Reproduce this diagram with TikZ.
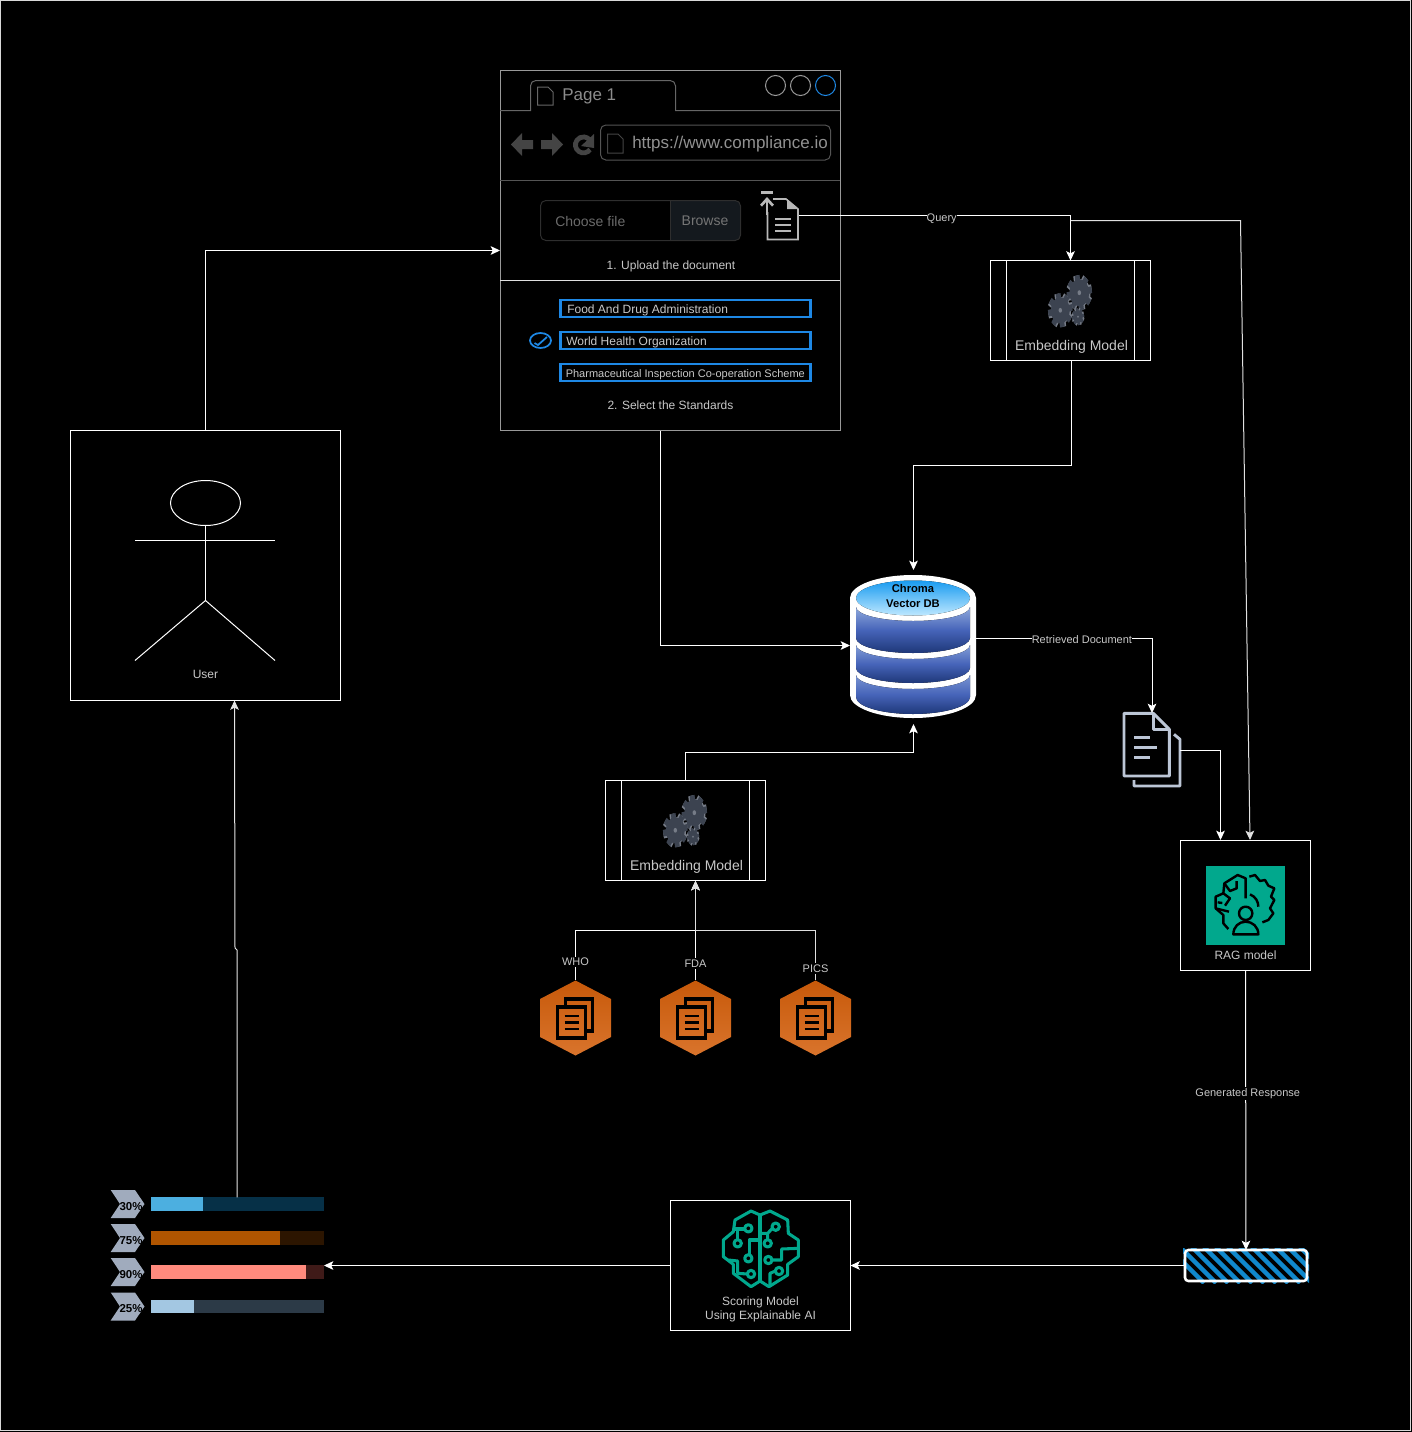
\documentclass[tikz,border=0pt]{standalone}
\usepackage{fontspec}
\setmainfont{Liberation Sans}
\usetikzlibrary{arrows.meta}
\definecolor{greytxt}{HTML}{C8C8C8}
\definecolor{chromegrey}{HTML}{444444}
\definecolor{uiblue}{HTML}{1E88E5}
\definecolor{awsgreen}{HTML}{01A88D}
\definecolor{docblue}{HTML}{BCC6D6}
\definecolor{gearcol}{HTML}{3C4350}
\definecolor{gearedge}{HTML}{767C87}
\definecolor{browsefill}{HTML}{14191E}
\definecolor{hatchblue}{HTML}{1088CC}
\definecolor{hextop}{HTML}{C7590A}
\definecolor{hexbottom}{HTML}{D9742C}
\definecolor{chevroncol}{HTML}{A0ABBD}
\definecolor{dblight}{HTML}{8FA9DC}
\definecolor{dbmid}{HTML}{4664B9}
\definecolor{dbdark}{HTML}{1E3778}
\definecolor{dbtopa}{HTML}{199BF0}
\definecolor{dbtopb}{HTML}{BEE8FF}
\begin{document}
\begin{tikzpicture}[x=.75pt,y=-.75pt,
	conn/.style={draw=white,line width=.75pt,-{Stealth[length=7pt,width=6.5pt,inset=1.6pt]}},
	plain/.style={draw=white,line width=.75pt},
	box/.style 2 args={draw=white,line width=.75pt,inner sep=0pt,outer sep=0pt,minimum width=#1*.75pt,minimum height=#2*.75pt},
	txt/.style={text=greytxt,inner sep=0pt,font=\fontsize{9}{10.5}\selectfont,align=center},
	lbl/.style={txt,fill=black,inner xsep=0pt,inner ysep=1pt,yshift=-.75pt,font=\fontsize{8.25}{10}\selectfont},
	stdbox/.style={draw=uiblue,line width=1.7pt,inner sep=0pt,minimum width=187.5pt,minimum height=12.4pt},
	stdtxt/.style={txt,anchor=west},
	chrome/.style={draw=#1,line width=.75pt},
	dbband/.style={top color=#1,bottom color=dbdark,middle color=dbmid},
	pics/gearwheel/.style={code={
		\begin{scope}[xscale=.72]
			\foreach \a in {0,45,...,315}
				\fill[gearedge,rotate=\a+10] (2-.22*#1,0) rectangle (2+.22*#1,1.13*#1);
			\fill[gearedge] (2,0) circle [radius=.88*#1];
			\foreach \a in {0,45,...,315}
				\fill[gearcol,rotate=\a+10] (-.22*#1,0) rectangle (.22*#1,1.13*#1);
			\fill[gearcol] (0,0) circle [radius=.88*#1];
			\fill[gearedge] (0,0) circle [radius=.16*#1];
		\end{scope}
	}},
	pics/gearset/.style={code={
		\pic at (8.8,-9.8) {gearwheel=15.5};
		\pic at (-10.2,7.8) {gearwheel=15};
		\pic at (7.5,14.2) {gearwheel=7.5};
	}},
	pics/docshex/.style={code={
		\fill[top color=hextop,bottom color=hexbottom]
			(0,-37.5) -- (35.5,-19) -- (35.5,19) -- (0,37.5) -- (-35.5,19) -- (-35.5,-19) -- cycle;
		\draw[black,line width=2.3pt] (-10,-11) -- (-10,-19) -- (17,-19) -- (17,13) -- (10,13);
		\draw[black,line width=2.3pt] (-18,-11) rectangle (10,20);
		\foreach \y in {-2,4.5,11}
			\draw[black,line width=1.8pt] (-11,\y) -- (3,\y);
	}}]
	\useasboundingbox (0,0) rectangle (1412,1432);
	\fill[black] (0,0) rectangle (1412,1432);
	\draw[white!85!black,line width=.75pt] (.5,.5) rectangle (1410.5,1430.5);

	% browser window
	\node (browser) [box={340}{360},draw=white!60!black] at (670.5,250.5) {};
	\draw[chrome={white!40!black}] (500,110.5) -- (530.5,110.5) -- (530.5,85) [rounded corners=4pt] -- (530.5,80.5) -- (675.5,80.5) [sharp corners] -- (675.5,110.5) -- (840,110.5);
	\draw[chrome={white!33!black}] (500,180.5) -- (840,180.5);
	\draw[white!88!black,line width=.75pt] (500,280.5) -- (840,280.5);
	\draw[chrome={white!40!black}] (537.5,87) -- (548,87) -- (553,92) -- (553,105) -- (537.5,105) -- cycle;
	\node (pagetab) [txt,anchor=west,text=white!55!black,font=\fontsize{12.75}{14}\selectfont] at (562,96) {Page 1};
	\draw[white!60!black,line width=.75pt] (775.5,85.5) circle [radius=10];
	\draw[white!60!black,line width=.75pt] (800.5,85.5) circle [radius=10];
	\draw[uiblue,line width=.75pt] (825.5,85.5) circle [radius=10];
	\fill[chromegrey] (511,144.5) -- (522,133) -- (522,140) -- (533,140) -- (533,149) -- (522,149) -- (522,156) -- cycle;
	\fill[chromegrey] (563,144.5) -- (552,133) -- (552,140) -- (541,140) -- (541,149) -- (552,149) -- (552,156) -- cycle;
	\draw[chromegrey,line width=3.6pt] (590,149.5) arc [start angle=35,end angle=320,radius=8];
	\fill[chromegrey] (594,134) -- (594,148) -- (581,146) -- cycle;
	\node (urlbar) [draw=white!33!black,line width=.75pt,rounded corners=4pt,inner sep=0pt,minimum width=172.5pt,minimum height=26.25pt] at (715.5,142.5) {};
	\draw[chrome={chromegrey}] (607.5,134) -- (618,134) -- (623,139) -- (623,153) -- (607.5,153) -- cycle;
	\node (urltxt) [txt,anchor=west,text=white!57!black,font=\fontsize{12.75}{14}\selectfont] at (632,144) {https://www.compliance.io};

	% upload row
	\fill[browsefill,rounded corners=4pt] (664,200.5) rectangle (740.5,240.5);
	\fill[black] (660,200) rectangle (670,241);
	\node (filepick) [draw=white!18!black,line width=.75pt,rounded corners=4pt,inner sep=0pt,minimum width=150pt,minimum height=30pt] at (640.5,220.5) {};
	\draw[white!18!black,line width=.75pt] (670.5,200.5) -- (670.5,240.5);
	\node (choosetxt) [txt,anchor=west,text=white!42!black,font=\fontsize{10.5}{12}\selectfont] at (555,221) {Choose file};
	\node (browsetxt) [txt,text=white!46!black,font=\fontsize{10.5}{12}\selectfont] at (705,221) {Browse};
	\node (uploadicon) [inner sep=0pt,minimum width=23.25pt,minimum height=30.75pt] at (783,220) {};
	\draw[white!72!black,line width=1.2pt] (767.5,212) -- (767.5,239.5) -- (798,239.5) -- (798,209) -- (786,199) -- (773,199);
	\fill[white!72!black] (787,199) -- (798,209) -- (787,209) -- cycle;
	\foreach \y in {219,225,231}
		\draw[white!72!black,line width=1.2pt] (775,\y) -- (791,\y);
	\fill[white!72!black] (761,191) rectangle (773,194);
	\draw[white!72!black,line width=2pt,-{Straight Barb[length=5pt,width=9pt]}] (767,215) -- (767,197);
	\node (uploadtxt) [txt] at (671,266) {1. Upload the document};

	% standards
	\node (stdfda) [stdbox] at (685.5,308.5) {};
	\node (stdwho) [stdbox] at (685.5,340.5) {};
	\node (stdpic) [stdbox] at (685.5,372.5) {};
	\node [stdtxt] at (567,310) {Food And Drug Administration};
	\node [stdtxt] at (566,342) {World Health Organization};
	\node [stdtxt,font=\fontsize{8.25}{10}\selectfont] at (565.5,374.5) {Pharmaceutical Inspection Co-operation Scheme};
	\draw[uiblue,line width=1.3pt] (540.5,340.5) ellipse [x radius=10.5,y radius=7.5];
	\draw[uiblue,line width=1.3pt] (534.5,343) -- (538,345) -- (547,337);
	\node (standardstxt) [txt] at (670.5,405) {2. Select the Standards};

	% user
	\node (userbox) [box={270}{270}] at (205.5,565.5) {};
	\draw[plain] (205.5,503) ellipse [x radius=35,y radius=22.5];
	\draw[plain] (135,540.5) -- (275,540.5);
	\draw[plain] (205.5,525.5) -- (205.5,600.5);
	\draw[plain] (135,660.5) -- (205.5,600.5) -- (275,660.5);
	\node (usertxt) [txt] at (205.5,674) {User};

	% embedding models
	\node (embedone) [box={160}{100}] at (1070.5,310.5) {};
	\node (embedtwo) [box={160}{100}] at (685.5,830.5) {};
	\foreach \m in {embedone,embedtwo} {
		\draw[plain] ([xshift=12pt]\m.north west) -- ([xshift=12pt]\m.south west);
		\draw[plain] ([xshift=-12pt]\m.north east) -- ([xshift=-12pt]\m.south east);
		\pic at ([yshift=6pt]\m.center) {gearset};
		\node [txt,font=\fontsize{10.5}{12}\selectfont] at ([xshift=.75pt,yshift=-27.5pt]\m.center) {Embedding Model};
	}

	% vector store
	\node (chromadb) [inner sep=0pt,minimum width=93.75pt,minimum height=108pt] at (913,647) {};
	\fill[white] (850,598) arc [start angle=180,end angle=360,x radius=63,y radius=23] -- (976,695) arc [start angle=0,end angle=180,x radius=63,y radius=23] -- cycle;
	\fill[dbband=dblight] (856,607) arc [start angle=180,end angle=0,x radius=57,y radius=14] -- (970,638) arc [start angle=0,end angle=180,x radius=57,y radius=15] -- cycle;
	\fill[dbband=dblight!85!dbmid] (856,645) arc [start angle=180,end angle=0,x radius=57,y radius=14] -- (970,668) arc [start angle=0,end angle=180,x radius=57,y radius=15] -- cycle;
	\fill[dbband=dblight!70!dbmid] (856,675) arc [start angle=180,end angle=0,x radius=57,y radius=14] -- (970,697) arc [start angle=0,end angle=180,x radius=57,y radius=17] -- cycle;
	\fill[top color=dbtopa,bottom color=dbtopb] (913,598) ellipse [x radius=57,y radius=17.5];
	\node (chromatxt) [inner sep=0pt,text=black,align=center,font=\bfseries\fontsize{8.4}{11}\selectfont] at (913,596) {Chroma\\Vector DB};

	% source documents
	\node (whohex) [inner sep=0pt,minimum width=53.25pt,minimum height=56.25pt] at (575.5,1018) {};
	\node (fdahex) [inner sep=0pt,minimum width=53.25pt,minimum height=56.25pt] at (695.5,1018) {};
	\node (picshex) [inner sep=0pt,minimum width=53.25pt,minimum height=56.25pt] at (815.5,1018) {};
	\foreach \h in {whohex,fdahex,picshex}
		\pic at (\h.center) {docshex};

	% retrieved document
	\node (retrieved) [inner sep=0pt,minimum width=42pt,minimum height=55pt] at (1152,750) {};
	\begin{scope}[shift={(1110,700)},x=.25pt,y=-.25pt,docblue,line width=2.2pt,line join=round]
		\draw (42,40) -- (130,40) -- (178,88) -- (178,228) -- (42,228) -- cycle;
		\draw (130,40) -- (130,88) -- (178,88);
		\draw (72,113) -- (120,113) (72,143) -- (140,143) (72,173) -- (120,173);
		\draw (192,103) -- (210,118) -- (210,258) -- (72,258) -- (72,240);
	\end{scope}

	% rag model
	\node (ragbox) [box={130}{130}] at (1245.5,905.5) {};
	\fill[awsgreen] (1206,866) rectangle (1285,945);
	\begin{scope}[shift={(1205,865)},x=.25pt,y=-.25pt,black,line width=1.8pt,line join=round]
		\draw (122,100) -- (122,40) -- (98,30) -- (58,55) -- (55,85) -- (32,95) -- (32,130) -- (55,150) -- (55,175) -- (70,192);
		\draw (58,55) -- (75,78) -- (95,70) -- (95,48);
		\draw (55,85) -- (75,100) -- (60,122) (32,130) -- (72,140) (38,112) -- (52,114);
		\draw (135,88) .. controls (152,95) and (160,110) .. (160,125);
		\draw (133,35) -- (150,30) -- (165,48) -- (180,45) -- (190,62) -- (208,70) -- (198,95) -- (208,105) -- (195,130) -- (205,145) -- (190,165) -- (172,172);
		\draw (122,145) circle [radius=20];
		\draw (85,208) .. controls (85,185) and (102,170) .. (122,170) .. controls (142,170) and (160,185) .. (160,208) -- cycle;
	\end{scope}
	\node (ragtxt) [txt] at (1245.5,955) {RAG model};

	% hatched response
	\node (hatchbar) [inner sep=0pt,outer sep=0pt,minimum width=91.5pt,minimum height=23.25pt] at (1246,1265.5) {};
	\begin{scope}
		\clip (1183,1248) rectangle (1309,1283);
		\foreach \i in {0,...,11}
			\draw[hatchblue,line width=3.4pt] (1168+12*\i,1247) -- (1204+12*\i,1283);
	\end{scope}
	\draw[white,line width=1.9pt,rounded corners=2.5pt] (hatchbar.north west) rectangle (hatchbar.south east);

	% scoring model
	\node (scorebox) [box={180}{130}] at (760.5,1265.5) {};
	\begin{scope}[shift={(715,1205)},x=.25pt,y=-.25pt,awsgreen,line width=2.3pt,line join=round]
		\draw (135,30) -- (108,18) -- (60,45) -- (55,80) -- (25,105) -- (25,155) -- (55,178) -- (55,205) -- (108,245) -- (135,228) -- (162,245) -- (218,210) -- (218,178) -- (250,155) -- (250,105) -- (220,85) -- (218,45) -- (165,18) -- cycle;
		\draw (135,30) -- (135,228);
		\draw (100,70) circle [radius=11] (68,115) circle [radius=11] (100,160) circle [radius=11] (108,207) circle [radius=11];
		\draw (182,65) circle [radius=11] (158,115) circle [radius=11] (160,165) circle [radius=11] (192,198) circle [radius=11];
		\draw (89,72) -- (60,72) (68,72) -- (68,104);
		\draw (135,105) -- (103,105) -- (103,149);
		\draw (40,165) -- (68,168) -- (68,205) -- (97,207);
		\draw (172,70) -- (158,85) -- (135,85) (158,85) -- (158,104);
		\draw (250,130) -- (200,132) -- (200,165) -- (171,165);
		\draw (181,198) -- (165,205) -- (165,240);
	\end{scope}
	\node (scoretxt) [txt] at (760.5,1309) {Scoring Model\\Using Explainable AI};

	% score bars
	\foreach \i/\y/\pct/\len/\fg/\bg in {1/1204/30/203/4CAFE0/063047,2/1238/75/280/B05500/2C1500,3/1272/90/306/FF8A7D/3F1A18,4/1306.5/25/194/A3C7E2/2C3A47} {
		\definecolor{barfg}{HTML}{\fg}
		\definecolor{barbg}{HTML}{\bg}
		\fill[chevroncol] (110.7,\y-14) -- (135,\y-14) -- (144.5,\y) -- (135,\y+14) -- (110.7,\y+14) -- (120,\y) -- cycle;
		\node (bartrack\i) [fill=barbg,inner sep=0pt,outer sep=0pt,minimum width=129.75pt,minimum height=10.1pt] at (237,\y) {};
		\fill[barfg] (150.5,\y-6.7) rectangle (\len,\y+6.7);
		\node (barpct\i) [inner sep=0pt,text=black,font=\bfseries\fontsize{8.6}{10}\selectfont] at (131,\y+2.5) {\pct\%};
	}

	% connectors
	\coordinate (browserin) at (500,250.5);
	\coordinate (browserout) at (660.5,430.5);
	\coordinate (dbin) at (850,645.5);
	\coordinate (querysplit) at (1070.5,220.5);
	\coordinate (ragquery) at (1250,840);
	\coordinate (ragdoc) at (1220.5,840);
	\coordinate (embedoneout) at (1071.5,360.5);
	\coordinate (dbtop) at (913.5,570);
	\coordinate (dbbottom) at (913.5,724);
	\coordinate (hexjoin) at (695.5,930.5);
	\coordinate (embedin) at (695.5,881);
	\coordinate (dbout) at (975,638.5);
	\coordinate (docin) at (1152,713);
	\coordinate (docout) at (1180,750.5);
	\coordinate (scoreout) at (670,1265.5);
	\coordinate (barsin) at (324,1265.5);
	\coordinate (userin) at (234.5,700.5);
	\draw[conn] (userbox.north) |- (browserin);
	\draw[conn] (browserout) |- (dbin);
	\draw[conn] (uploadicon.east |- 0,215.5) -- node[lbl,pos=.526,yshift=-1.5pt] {Query} (1070.5,215.5) -- (embedone.north);
	\draw[conn,draw=white!88!black] (querysplit) -- (1240.5,220.5) -- (ragquery);
	\draw[conn] (embedoneout) |- (913.5,465.5) -- (dbtop);
	\draw[conn] (embedtwo.north) |- (913.5,752.5) -- (dbbottom);
	\draw[conn] (whohex.north) -- node[lbl,pos=.39] {WHO} (whohex.north |- hexjoin) -- (hexjoin) -- (embedin);
	\draw[conn] (fdahex.north) -- node[lbl,pos=.18] {FDA} (embedin);
	\draw[conn,draw=white!88!black] (picshex.north) -- node[lbl,pos=.26] {PICS} (picshex.north |- hexjoin) -- (hexjoin) -- (embedin);
	\draw[conn] (dbout) -- node[lbl,pos=.604] {Retrieved Document} (docin |- dbout) -- (docin);
	\draw[conn] (docout) -| (ragdoc);
	\draw[conn] (ragbox.south) -- node[lbl,pos=.436,xshift=1.5pt] {Generated Response} (hatchbar.north);
	\draw[conn] (hatchbar.west) -- (scorebox.east);
	\draw[conn] (scoreout) -- (barsin);
	\draw[conn,draw=white!90!black] (bartrack1.north) -- (237,950) -- (235,948) -- (userin);
\end{tikzpicture}
\end{document}
